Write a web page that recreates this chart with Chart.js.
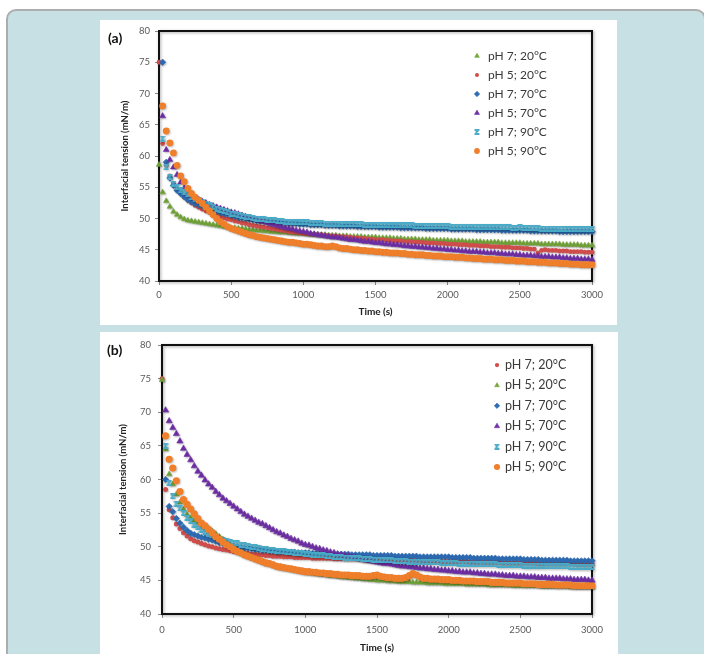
<!DOCTYPE html>
<html>
<head>
<meta charset="utf-8">
<script src="https://cdn.jsdelivr.net/npm/chart.js@4.4.1/dist/chart.umd.min.js"></script>
<style>
  html, body { margin: 0; padding: 0; }
  body { width: 704px; height: 654px; overflow: hidden; background: #fff; position: relative; font-family: Lato, sans-serif; }
  #frame { position: absolute; left: 6px; top: 9px; width: 700px; height: 700px; box-sizing: border-box;
           border: 2px solid #adadad; border-radius: 10px; background: #c6e0e4; }
  .panel { position: absolute; background: #fff; }
  #panelA { left: 100px; top: 20px; width: 517px; height: 305px; }
  #panelB { left: 100px; top: 332px; width: 518px; height: 322px; }
  .tag { position: absolute; font: bold 14px Lato, sans-serif; line-height: 14px; color: #111; }
  canvas { position: absolute; left: 0; top: 0; }
</style>
</head>
<body>
<div id="frame"></div>
<div class="panel" id="panelA">
  <canvas id="chartA" width="517" height="305"></canvas>
  <div class="tag" style="left:8px; top:11px;">(a)</div>
</div>
<div class="panel" id="panelB">
  <canvas id="chartB" width="518" height="322"></canvas>
  <div class="tag" style="left:7px; top:11px;">(b)</div>
</div>
<script>
// time axis (s), one reading every 25 s
const times = [
  0, 25, 50, 75, 100, 125, 150, 175, 200, 225,
  250, 275, 300, 325, 350, 375, 400, 425, 450, 475,
  500, 525, 550, 575, 600, 625, 650, 675, 700, 725,
  750, 775, 800, 825, 850, 875, 900, 925, 950, 975,
  1000, 1025, 1050, 1075, 1100, 1125, 1150, 1175, 1200, 1225,
  1250, 1275, 1300, 1325, 1350, 1375, 1400, 1425, 1450, 1475,
  1500, 1525, 1550, 1575, 1600, 1625, 1650, 1675, 1700, 1725,
  1750, 1775, 1800, 1825, 1850, 1875, 1900, 1925, 1950, 1975,
  2000, 2025, 2050, 2075, 2100, 2125, 2150, 2175, 2200, 2225,
  2250, 2275, 2300, 2325, 2350, 2375, 2400, 2425, 2450, 2475,
  2500, 2525, 2550, 2575, 2600, 2625, 2650, 2675, 2700, 2725,
  2750, 2775, 2800, 2825, 2850, 2875, 2900, 2925, 2950, 2975,
  3000
];

const seriesLabels = ['pH 7; 20°C', 'pH 5; 20°C', 'pH 7; 70°C', 'pH 5; 70°C', 'pH 7; 90°C', 'pH 5; 90°C'];
const xTicks = [0, 500, 1000, 1500, 2000, 2500, 3000];
const yTicks = [40, 45, 50, 55, 60, 65, 70, 75, 80];

// ---- panel (a) ----
const a_pH7_20 = [
  58.6, 54.2, 52.8, 51.9, 51.1, 50.6, 50.2, 49.9, 49.7, 49.6,
  49.5, 49.4, 49.3, 49.2, 49.1, 49.0, 48.9, 48.8, 48.7, 48.6,
  48.5, 48.5, 48.4, 48.4, 48.3, 48.2, 48.2, 48.1, 48.1, 48.0,
  48.0, 47.9, 47.9, 47.8, 47.8, 47.8, 47.7, 47.7, 47.6, 47.6,
  47.6, 47.5, 47.5, 47.5, 47.4, 47.4, 47.4, 47.3, 47.3, 47.3,
  47.2, 47.2, 47.2, 47.1, 47.1, 47.1, 47.1, 47.0, 47.0, 47.0,
  47.0, 46.9, 46.9, 46.9, 46.9, 46.8, 46.8, 46.8, 46.7, 46.7,
  46.7, 46.7, 46.6, 46.6, 46.6, 46.6, 46.5, 46.5, 46.5, 46.5,
  46.5, 46.4, 46.4, 46.4, 46.4, 46.3, 46.3, 46.3, 46.3, 46.3,
  46.2, 46.2, 46.2, 46.2, 46.2, 46.1, 46.1, 46.1, 46.1, 46.1,
  46.1, 46.0, 46.0, 46.0, 46.0, 46.0, 45.9, 45.9, 45.9, 45.9,
  45.9, 45.9, 45.8, 45.8, 45.8, 45.8, 45.8, 45.7, 45.7, 45.7,
  45.7
];
const a_pH5_20 = [
  75.0, 62.0, 58.5, 56.8, 55.6, 54.7, 54.0, 53.4, 52.9, 52.5,
  52.1, 51.8, 51.5, 51.2, 51.0, 50.7, 50.5, 50.3, 50.1, 49.9,
  49.8, 49.6, 49.5, 49.3, 49.2, 49.0, 48.9, 48.8, 48.7, 48.6,
  48.5, 48.4, 48.3, 48.2, 48.1, 48.0, 47.9, 47.8, 47.8, 47.7,
  47.6, 47.6, 47.5, 47.5, 47.4, 47.4, 47.3, 47.3, 47.2, 47.2,
  47.1, 47.1, 47.0, 47.0, 46.9, 46.9, 46.8, 46.8, 46.7, 46.7,
  46.6, 46.6, 46.6, 46.5, 46.5, 46.4, 46.4, 46.4, 46.3, 46.3,
  46.3, 46.2, 46.2, 46.2, 46.1, 46.1, 46.1, 46.0, 46.0, 46.0,
  45.9, 45.9, 45.9, 45.8, 45.8, 45.8, 45.7, 45.7, 45.7, 45.6,
  45.6, 45.6, 45.5, 45.5, 45.5, 45.4, 45.4, 45.4, 45.3, 45.3,
  45.3, 45.2, 45.2, 45.1, 45.1, 44.5, 44.9, 45.0, 44.9, 44.9,
  44.9, 44.8, 44.8, 44.8, 44.7, 44.7, 44.7, 44.7, 44.6, 44.6,
  44.6
];
const a_pH7_70 = [
  null, 75.0, 59.0, 56.5, 55.3, 54.5, 54.0, 53.5, 53.0, 52.7,
  52.4, 52.2, 52.0, 51.8, 51.6, 51.4, 51.2, 51.0, 50.8, 50.7,
  50.5, 50.4, 50.2, 50.1, 50.0, 49.9, 49.8, 49.7, 49.6, 49.6,
  49.5, 49.5, 49.4, 49.4, 49.3, 49.3, 49.2, 49.2, 49.2, 49.1,
  49.1, 49.1, 49.0, 49.0, 49.0, 49.0, 48.9, 48.9, 48.9, 48.9,
  48.8, 48.8, 48.8, 48.8, 48.8, 48.7, 48.7, 48.7, 48.7, 48.7,
  48.7, 48.6, 48.6, 48.6, 48.6, 48.6, 48.6, 48.5, 48.5, 48.5,
  48.5, 48.5, 48.5, 48.5, 48.4, 48.4, 48.4, 48.4, 48.4, 48.4,
  48.4, 48.3, 48.3, 48.3, 48.3, 48.3, 48.3, 48.3, 48.2, 48.2,
  48.2, 48.2, 48.2, 48.2, 48.2, 48.1, 48.1, 48.1, 48.1, 48.1,
  48.1, 48.1, 48.1, 48.0, 48.0, 48.0, 48.0, 48.0, 48.0, 48.0,
  48.0, 47.9, 47.9, 47.9, 47.9, 47.9, 47.9, 47.9, 47.9, 47.9,
  47.9
];
const a_pH5_70 = [
  null, 66.4, 61.0, 59.4, 58.2, 57.0, 55.8, 54.9, 54.1, 53.6,
  53.2, 53.0, 52.7, 52.5, 52.2, 52.0, 51.8, 51.6, 51.4, 51.2,
  51.0, 50.9, 50.7, 50.5, 50.3, 50.1, 49.9, 49.8, 49.6, 49.5,
  49.3, 49.1, 49.0, 48.8, 48.7, 48.5, 48.4, 48.3, 48.1, 48.0,
  47.9, 47.8, 47.6, 47.5, 47.4, 47.3, 47.2, 47.1, 47.0, 47.0,
  46.9, 46.8, 46.7, 46.6, 46.6, 46.5, 46.4, 46.3, 46.3, 46.2,
  46.1, 46.1, 46.0, 45.9, 45.9, 45.8, 45.8, 45.7, 45.6, 45.6,
  45.5, 45.5, 45.4, 45.4, 45.3, 45.3, 45.2, 45.2, 45.1, 45.1,
  45.0, 45.0, 44.9, 44.9, 44.8, 44.8, 44.7, 44.7, 44.7, 44.6,
  44.6, 44.5, 44.5, 44.5, 44.4, 44.4, 44.3, 44.3, 44.3, 44.2,
  44.2, 44.1, 44.1, 44.1, 44.0, 44.0, 43.9, 43.9, 43.9, 43.8,
  43.8, 43.8, 43.7, 43.7, 43.6, 43.6, 43.6, 43.5, 43.5, 43.5,
  43.4
];
const a_pH7_90 = [
  null, 62.8, 58.2, 56.7, 55.6, 55.0, 54.5, 54.2, 53.9, 53.4,
  53.1, 52.9, 52.7, 52.4, 52.1, 51.9, 51.6, 51.4, 51.2, 51.0,
  50.8, 50.7, 50.5, 50.4, 50.3, 50.2, 50.1, 50.0, 49.9, 49.9,
  49.8, 49.7, 49.7, 49.6, 49.6, 49.5, 49.5, 49.5, 49.4, 49.4,
  49.4, 49.4, 49.3, 49.3, 49.3, 49.3, 49.2, 49.2, 49.2, 49.2,
  49.2, 49.1, 49.1, 49.1, 49.1, 49.1, 49.1, 49.0, 49.0, 49.0,
  49.0, 49.0, 49.0, 49.0, 48.9, 48.9, 48.9, 48.9, 48.9, 48.9,
  48.9, 48.8, 48.8, 48.8, 48.8, 48.8, 48.8, 48.8, 48.8, 48.8,
  48.8, 48.7, 48.7, 48.7, 48.7, 48.7, 48.7, 48.7, 48.7, 48.6,
  48.6, 48.6, 48.6, 48.6, 48.6, 48.6, 48.6, 48.6, 48.5, 48.5,
  48.6, 48.5, 48.5, 48.5, 48.5, 48.5, 48.4, 48.4, 48.4, 48.4,
  48.4, 48.4, 48.4, 48.3, 48.3, 48.3, 48.3, 48.3, 48.3, 48.3,
  48.3
];
const a_pH5_90 = [
  null, 68.0, 64.0, 62.1, 60.5, 58.5, 56.8, 55.9, 54.8, 54.0,
  53.4, 52.9, 52.4, 51.8, 51.2, 50.6, 50.0, 49.5, 49.1, 48.7,
  48.4, 48.2, 48.0, 47.8, 47.6, 47.4, 47.3, 47.1, 47.0, 46.9,
  46.8, 46.7, 46.6, 46.5, 46.4, 46.3, 46.2, 46.2, 46.1, 46.0,
  45.9, 45.9, 45.8, 45.7, 45.6, 45.6, 45.5, 45.5, 45.6, 45.5,
  45.3, 45.2, 45.2, 45.1, 45.0, 45.0, 44.9, 44.9, 44.8, 44.8,
  44.7, 44.7, 44.6, 44.6, 44.5, 44.5, 44.5, 44.4, 44.4, 44.3,
  44.3, 44.2, 44.2, 44.2, 44.1, 44.1, 44.0, 44.0, 44.0, 43.9,
  43.9, 43.9, 43.8, 43.8, 43.8, 43.7, 43.7, 43.6, 43.6, 43.6,
  43.5, 43.5, 43.5, 43.4, 43.4, 43.4, 43.3, 43.3, 43.3, 43.2,
  43.2, 43.2, 43.1, 43.1, 43.1, 43.0, 43.0, 43.0, 42.9, 42.9,
  42.9, 42.8, 42.8, 42.8, 42.7, 42.7, 42.7, 42.6, 42.6, 42.6,
  42.6
];

// ---- panel (b) ----
const b_pH7_20 = [
  75.0, 58.5, 55.5, 54.3, 53.4, 52.7, 52.1, 51.6, 51.2, 50.9,
  50.7, 50.5, 50.3, 50.1, 50.0, 49.8, 49.7, 49.6, 49.5, 49.4,
  49.3, 49.2, 49.1, 49.1, 49.0, 48.9, 48.9, 48.8, 48.8, 48.7,
  48.7, 48.6, 48.6, 48.6, 48.5, 48.5, 48.5, 48.4, 48.4, 48.4,
  48.4, 48.4, 48.3, 48.3, 48.3, 48.3, 48.3, 48.3, 48.2, 48.2,
  48.2, 48.2, 48.2, 48.2, 48.2, 48.2, 48.1, 48.1, 48.1, 48.1,
  48.1, 48.1, 48.1, 48.0, 48.0, 48.0, 48.0, 48.0, 48.0, 48.0,
  48.0, 47.9, 47.9, 47.9, 47.9, 47.9, 47.9, 47.9, 47.8, 47.8,
  47.8, 47.8, 47.8, 47.8, 47.8, 47.8, 47.7, 47.7, 47.7, 47.7,
  47.7, 47.7, 47.7, 47.7, 47.7, 47.6, 47.6, 47.6, 47.6, 47.6,
  47.6, 47.6, 47.6, 47.6, 47.6, 47.5, 47.5, 47.5, 47.5, 47.5,
  47.5, 47.5, 47.5, 47.5, 47.5, 47.5, 47.4, 47.4, 47.4, 47.4,
  47.4
];
const b_pH5_20 = [
  74.8, 64.5, 60.8, 59.3, 57.8, 56.6, 55.6, 54.8, 54.3, 53.9,
  53.6, 53.3, 53.0, 52.7, 52.3, 51.9, 51.5, 51.1, 50.7, 50.3,
  49.9, 49.6, 49.3, 49.0, 48.7, 48.5, 48.2, 48.0, 47.8, 47.6,
  47.5, 47.3, 47.1, 47.0, 46.9, 46.8, 46.7, 46.6, 46.5, 46.4,
  46.3, 46.2, 46.1, 46.0, 45.9, 45.9, 45.8, 45.7, 45.7, 45.6,
  45.5, 45.5, 45.4, 45.4, 45.3, 45.3, 45.2, 45.2, 45.1, 45.1,
  45.0, 45.0, 45.0, 44.9, 44.9, 44.9, 44.8, 44.8, 44.8, 44.8,
  44.7, 44.7, 44.7, 44.7, 44.6, 44.6, 44.6, 44.6, 44.6, 44.5,
  44.5, 44.5, 44.5, 44.5, 44.5, 44.4, 44.4, 44.4, 44.4, 44.4,
  44.4, 44.3, 44.3, 44.3, 44.3, 44.3, 44.3, 44.3, 44.2, 44.2,
  44.2, 44.2, 44.2, 44.2, 44.2, 44.2, 44.1, 44.1, 44.1, 44.1,
  44.1, 44.1, 44.1, 44.1, 44.0, 44.0, 44.0, 44.0, 44.0, 44.0,
  44.0
];
const b_pH7_70 = [
  null, 60.0, 56.0, 55.2, 54.2, 53.5, 52.9, 52.4, 52.0, 51.8,
  51.6, 51.4, 51.3, 51.1, 51.0, 50.8, 50.6, 50.5, 50.3, 50.2,
  50.1, 50.0, 49.9, 49.8, 49.8, 49.7, 49.6, 49.6, 49.5, 49.5,
  49.4, 49.4, 49.3, 49.3, 49.3, 49.2, 49.2, 49.2, 49.1, 49.1,
  49.1, 49.1, 49.0, 49.0, 49.0, 49.0, 49.0, 48.9, 48.9, 48.9,
  48.9, 48.9, 48.9, 48.8, 48.8, 48.8, 48.8, 48.8, 48.8, 48.7,
  48.7, 48.7, 48.7, 48.7, 48.7, 48.6, 48.6, 48.6, 48.6, 48.6,
  48.6, 48.6, 48.5, 48.5, 48.5, 48.5, 48.5, 48.5, 48.5, 48.5,
  48.5, 48.4, 48.4, 48.4, 48.4, 48.4, 48.4, 48.3, 48.3, 48.3,
  48.3, 48.3, 48.3, 48.3, 48.2, 48.2, 48.2, 48.2, 48.2, 48.2,
  48.2, 48.1, 48.1, 48.1, 48.1, 48.1, 48.0, 48.0, 48.0, 48.0,
  48.0, 48.0, 48.0, 48.0, 47.9, 47.9, 47.9, 47.9, 47.9, 47.9,
  47.9
];
const b_pH5_70 = [
  null, 70.3, 68.7, 67.7, 66.8, 65.7, 64.6, 63.7, 62.9, 62.0,
  61.2, 60.6, 59.9, 59.3, 58.8, 58.2, 57.7, 57.2, 56.8, 56.4,
  56.0, 55.6, 55.2, 54.8, 54.5, 54.2, 53.9, 53.6, 53.4, 53.1,
  52.8, 52.5, 52.2, 52.0, 51.7, 51.5, 51.2, 51.0, 50.8, 50.5,
  50.3, 50.2, 50.0, 49.8, 49.7, 49.5, 49.4, 49.2, 49.1, 48.9,
  48.8, 48.7, 48.6, 48.5, 48.4, 48.2, 48.1, 48.0, 47.9, 47.8,
  47.7, 47.6, 47.5, 47.5, 47.4, 47.3, 47.2, 47.1, 47.1, 47.0,
  47.0, 46.9, 46.8, 46.8, 46.7, 46.7, 46.6, 46.6, 46.5, 46.5,
  46.4, 46.4, 46.3, 46.3, 46.2, 46.2, 46.2, 46.1, 46.1, 46.0,
  46.0, 45.9, 45.9, 45.9, 45.8, 45.8, 45.7, 45.7, 45.7, 45.6,
  45.6, 45.6, 45.5, 45.5, 45.5, 45.4, 45.4, 45.4, 45.3, 45.3,
  45.3, 45.3, 45.2, 45.2, 45.2, 45.1, 45.1, 45.1, 45.1, 45.0,
  45.0
];
const b_pH7_90 = [
  null, 65.0, 59.5, 57.5, 56.4, 55.7, 55.0, 54.3, 53.8, 53.3,
  52.9, 52.5, 52.2, 51.9, 51.7, 51.4, 51.2, 51.0, 50.9, 50.7,
  50.6, 50.5, 50.3, 50.2, 50.1, 50.0, 49.9, 49.8, 49.7, 49.6,
  49.5, 49.5, 49.4, 49.3, 49.3, 49.2, 49.2, 49.1, 49.1, 49.0,
  48.9, 48.9, 48.8, 48.8, 48.7, 48.7, 48.6, 48.6, 48.5, 48.5,
  48.5, 48.4, 48.4, 48.3, 48.3, 48.3, 48.2, 48.2, 48.2, 48.1,
  48.1, 48.1, 48.0, 48.0, 48.0, 47.9, 47.9, 47.9, 47.9, 47.8,
  47.8, 47.8, 47.8, 47.7, 47.7, 47.7, 47.7, 47.7, 47.6, 47.6,
  47.6, 47.6, 47.6, 47.5, 47.5, 47.5, 47.5, 47.5, 47.4, 47.4,
  47.4, 47.4, 47.4, 47.4, 47.3, 47.3, 47.3, 47.3, 47.3, 47.3,
  47.3, 47.2, 47.2, 47.2, 47.2, 47.2, 47.2, 47.1, 47.1, 47.1,
  47.1, 47.1, 47.1, 47.1, 47.0, 47.0, 47.0, 47.0, 47.0, 47.0,
  47.0
];
const b_pH5_90 = [
  null, 66.5, 63.0, 61.7, 59.8, 58.2, 57.0, 56.3, 55.6, 54.9,
  54.2, 53.5, 53.1, 52.6, 52.1, 51.5, 51.1, 50.7, 50.3, 50.0,
  49.6, 49.3, 49.1, 48.8, 48.6, 48.4, 48.2, 48.0, 47.8, 47.6,
  47.5, 47.3, 47.1, 47.0, 46.9, 46.8, 46.7, 46.6, 46.5, 46.4,
  46.3, 46.3, 46.2, 46.2, 46.1, 46.1, 46.0, 46.0, 45.9, 45.9,
  45.8, 45.8, 45.8, 45.7, 45.7, 45.7, 45.6, 45.6, 45.6, 45.7,
  45.8, 45.6, 45.5, 45.4, 45.4, 45.3, 45.3, 45.3, 45.4, 45.7,
  46.0, 45.8, 45.5, 45.3, 45.3, 45.2, 45.2, 45.2, 45.1, 45.1,
  45.1, 45.0, 45.0, 45.0, 44.9, 44.9, 44.9, 44.9, 44.8, 44.8,
  44.8, 44.8, 44.7, 44.7, 44.7, 44.7, 44.6, 44.6, 44.6, 44.6,
  44.6, 44.5, 44.5, 44.5, 44.5, 44.4, 44.4, 44.4, 44.4, 44.4,
  44.3, 44.3, 44.3, 44.3, 44.3, 44.2, 44.2, 44.2, 44.2, 44.2,
  44.2
];

const GREEN = '#74a63a', RED = '#cf4d4b', BLUE = '#2f6db6', PURPLE = '#7030a8', CYAN = '#4aabc8', ORANGE = '#ef7f2b';

Chart.defaults.font.family = 'Lato, sans-serif';

function hourglassMarker(color, size) {
  const c = document.createElement('canvas');
  c.width = size; c.height = size;
  const g = c.getContext('2d');
  g.strokeStyle = color;
  g.lineWidth = 1.4;
  g.beginPath();
  g.moveTo(0.5, 0.7); g.lineTo(size - 0.5, 0.7);
  g.moveTo(0.5, size - 0.7); g.lineTo(size - 0.5, size - 0.7);
  g.moveTo(0.8, 0.8); g.lineTo(size - 0.8, size - 0.8);
  g.moveTo(size - 0.8, 0.8); g.lineTo(0.8, size - 0.8);
  g.stroke();
  return c;
}

function toPoints(values) {
  const pts = [];
  values.forEach((v, i) => { if (v !== null) pts.push({ x: times[i], y: v }); });
  return pts;
}

// plot frame + soft marker shadow (Excel look)
const frameAndShadow = {
  id: 'frameAndShadow',
  beforeDatasetsDraw(chart) {
    const { ctx, chartArea: a } = chart;
    ctx.save();
    ctx.shadowColor = 'rgba(0,0,0,0.35)';
    ctx.shadowBlur = 3;
    ctx.shadowOffsetX = 1;
    ctx.shadowOffsetY = 1;
    ctx.strokeStyle = '#111';
    ctx.lineWidth = 2;
    ctx.strokeRect(a.left, a.top, a.width, a.height);
    ctx.restore();
    ctx.save();
    ctx.shadowColor = 'rgba(0,0,0,0.25)';
    ctx.shadowBlur = 2;
    ctx.shadowOffsetX = 1;
    ctx.shadowOffsetY = 1;
  },
  afterDatasetsDraw(chart) {
    chart.ctx.restore();
  }
};

const insideLegend = {
  id: 'insideLegend',
  afterDatasetsDraw(chart, args, opts) {
    const ctx = chart.ctx;
    ctx.save();
    ctx.font = opts.font;
    ctx.textBaseline = 'middle';
    ctx.textAlign = 'left';
    chart.data.datasets.forEach((ds, i) => {
      const y = opts.y + i * opts.dy;
      ctx.fillStyle = ds.backgroundColor;
      ctx.strokeStyle = ds.borderColor;
      ctx.lineWidth = ds.borderWidth;
      Chart.helpers.drawPoint(ctx, {
        pointStyle: ds.pointStyle, radius: ds.pointRadius * 0.85, rotation: 0, borderWidth: ds.borderWidth
      }, opts.x, y);
      ctx.fillStyle = '#3a3a3a';
      ctx.fillText(ds.label, opts.textX, y);
    });
    ctx.restore();
  }
};

function makeChart(id, series, cfg) {
  const datasets = series.map((s, i) => ({
    label: seriesLabels[i],
    data: toPoints(s.values),
    pointStyle: s.style,
    pointRadius: s.r,
    backgroundColor: s.color,
    borderColor: s.color,
    borderWidth: s.style === 'circle' ? 0 : 0.6,
    showLine: false,
    clip: false,
    order: series.length - i
  }));

  return new Chart(document.getElementById(id), {
    type: 'scatter',
    data: { datasets },
    options: {
      responsive: false,
      animation: false,
      devicePixelRatio: 1,
      events: [],
      layout: { padding: { top: cfg.top, right: cfg.right, bottom: 0, left: 0 } },
      plugins: {
        legend: { display: false },
        tooltip: { enabled: false },
        insideLegend: cfg.legend
      },
      scales: {
        x: {
          type: 'linear',
          min: 0, max: 3000,
          afterBuildTicks: sc => { sc.ticks = xTicks.map(v => ({ value: v })); },
          afterFit: sc => { sc.height = cfg.xHeight; },
          grid: { drawOnChartArea: false, drawTicks: true, tickLength: 4, color: '#8c8c8c' },
          border: { display: false },
          ticks: {
            color: '#595959', font: { size: cfg.tickSize }, padding: cfg.xPad, maxRotation: 0,
            callback: v => String(v)
          },
          title: {
            display: true, text: 'Time (s)', color: '#222',
            font: { size: cfg.titleSize, weight: 'bold' },
            padding: { top: 0, bottom: cfg.xTitlePad }
          }
        },
        y: {
          min: 40, max: 80,
          afterBuildTicks: sc => { sc.ticks = yTicks.map(v => ({ value: v })); },
          afterFit: sc => { sc.width = cfg.yWidth; },
          grid: { drawOnChartArea: false, drawTicks: true, tickLength: 4, color: '#8c8c8c' },
          border: { display: false },
          ticks: { color: '#595959', font: { size: cfg.tickSize }, padding: cfg.yPad, callback: v => String(v) },
          title: {
            display: true, text: 'Interfacial tension (mN/m)', color: '#222',
            font: { size: cfg.yTitleSize, weight: 'bold' },
            padding: { top: cfg.yTitlePad, bottom: 0 }
          }
        }
      }
    },
    plugins: [frameAndShadow, insideLegend]
  });
}

makeChart('chartA', [
  { values: a_pH7_20, color: GREEN,  style: 'triangle', r: 3.2 },
  { values: a_pH5_20, color: RED,    style: 'circle',   r: 2.4 },
  { values: a_pH7_70, color: BLUE,   style: 'rectRot',  r: 3.2 },
  { values: a_pH5_70, color: PURPLE, style: 'triangle', r: 3.4 },
  { values: a_pH7_90, color: CYAN,   style: hourglassMarker(CYAN, 6), r: 3 },
  { values: a_pH5_90, color: ORANGE, style: 'circle',   r: 3.4 }
], {
  top: 11, right: 25, yWidth: 59, xHeight: 44,
  tickSize: 9.5, titleSize: 10, yTitleSize: 9.5, xPad: 4, yPad: 5, xTitlePad: 7, yTitlePad: 19,
  legend: { x: 377, textX: 388, y: 36, dy: 19, font: '12px Lato, sans-serif' }
});

makeChart('chartB', [
  { values: b_pH7_20, color: RED,    style: 'circle',   r: 2.5 },
  { values: b_pH5_20, color: GREEN,  style: 'triangle', r: 3.2 },
  { values: b_pH7_70, color: BLUE,   style: 'rectRot',  r: 3.2 },
  { values: b_pH5_70, color: PURPLE, style: 'triangle', r: 3.6 },
  { values: b_pH7_90, color: CYAN,   style: hourglassMarker(CYAN, 6), r: 3 },
  { values: b_pH5_90, color: ORANGE, style: 'circle',   r: 3.6 }
], {
  top: 13, right: 26, yWidth: 62, xHeight: 40,
  tickSize: 9.5, titleSize: 10, yTitleSize: 9.5, xPad: 6, yPad: 7, xTitlePad: 0, yTitlePad: 17,
  legend: { x: 397, textX: 405, y: 33, dy: 20.4, font: '12.5px Lato, sans-serif' }
});
</script>
</body>
</html>
